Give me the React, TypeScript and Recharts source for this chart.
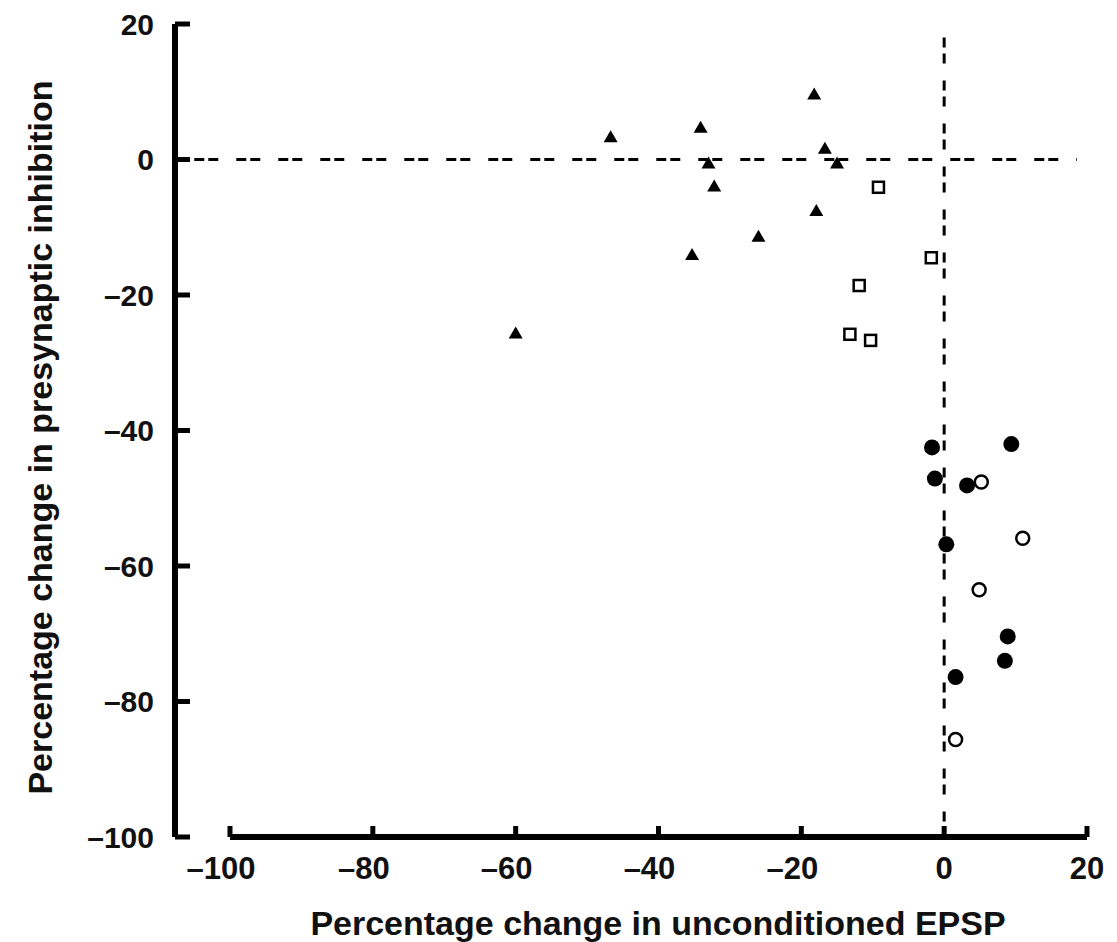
import { ScatterChart, Scatter, XAxis, YAxis, ReferenceLine, Label } from "recharts";

// filled triangles
const triangleX = [-60.0, -46.7, -34.1, -33.0, -32.2, -35.3, -26.0, -18.2, -16.7, -15.0, -17.9];
const triangleY = [-25.7, 3.3, 4.7, -0.6, -4.0, -14.1, -11.4, 9.6, 1.6, -0.6, -7.6];

// open squares
const squareX = [-9.2, -1.8, -11.9, -13.2, -10.3];
const squareY = [-4.1, -14.5, -18.6, -25.8, -26.7];

// filled circles
const dotX = [-1.7, 9.4, -1.3, 3.2, 0.3, 8.9, 8.5, 1.6];
const dotY = [-42.5, -42.0, -47.1, -48.1, -56.8, -70.4, -74.0, -76.4];

// open circles
const ringX = [5.2, 11.0, 4.9, 1.6];
const ringY = [-47.6, -55.9, -63.5, -85.6];

const xTicks = [-100, -80, -60, -40, -20, 0, 20];
const yTicks = [20, 0, -20, -40, -60, -80, -100];

const X_MIN = -107.7; // y axis sits a little left of -100

const toPoints = (xs: number[], ys: number[]) => xs.map((x, i) => ({ x, y: ys[i] }));

const FONT = "'Liberation Sans', Arial, Helvetica, sans-serif";
const fmt = (v: number) => (v < 0 ? "\u2013" + Math.abs(v) : String(v));

const Triangle = (p: any) => (
  <path d={`M${p.cx},${p.cy - 7} L${p.cx + 7},${p.cy + 5} L${p.cx - 7},${p.cy + 5} Z`} fill="#000" />
);
const Square = (p: any) => (
  <rect x={p.cx - 5.5} y={p.cy - 5.5} width={11} height={11} fill="#fff" stroke="#000" strokeWidth={2.5} />
);
const Dot = (p: any) => <circle cx={p.cx} cy={p.cy} r={8} fill="#000" />;
const Ring = (p: any) => <circle cx={p.cx} cy={p.cy} r={6.5} fill="#fff" stroke="#000" strokeWidth={2.5} />;

const YTick = ({ x, y, payload }: any) => (
  <g>
    <line x1={x} y1={y} x2={x + 15} y2={y} stroke="#000" strokeWidth={5} />
    <text x={x - 21} y={y} dy="0.36em" textAnchor="end" fontFamily={FONT} fontWeight="bold" fontSize={30} fill="#111">
      {fmt(payload.value)}
    </text>
  </g>
);

const XTick = ({ x, y, payload }: any) => (
  <g>
    <line x1={x} y1={y} x2={x} y2={y - 11} stroke="#000" strokeWidth={5} />
    <text x={payload.value < 0 ? x - 9 : x} y={y + 42} textAnchor="middle" fontFamily={FONT} fontWeight="bold" fontSize={31} fill="#111">
      {fmt(payload.value)}
    </text>
  </g>
);

const XTitle = (props: any) => {
  const { x, y, width } = props.viewBox;
  return (
    <text x={x + width / 2 + 27} y={y + 98} textAnchor="middle" fontFamily={FONT} fontWeight="bold" fontSize={34} fill="#111">
      Percentage change in unconditioned EPSP
    </text>
  );
};

const YTitle = (props: any) => {
  const { x, y, height } = props.viewBox;
  const cx = x - 134;
  const cy = y + height / 2 + 7;
  return (
    <text x={cx} y={cy} transform={`rotate(-90 ${cx} ${cy})`} dy="0.36em" textAnchor="middle" fontFamily={FONT} fontWeight="bold" fontSize={34} fill="#111">
      Percentage change in presynaptic inhibition
    </text>
  );
};

const App = () => {
  return (
    <ScatterChart width={1109} height={934} margin={{ top: 16, right: 30, bottom: 0, left: 166 }}>
      <XAxis
        type="number"
        dataKey="x"
        domain={[X_MIN, 20]}
        ticks={xTicks}
        interval={0}
        axisLine={false}
        tickLine={false}
        tickSize={0}
        tickMargin={0}
        tick={<XTick />}
        height={105}
      >
        <Label content={<XTitle />} />
      </XAxis>
      <YAxis
        type="number"
        dataKey="y"
        domain={[-100, 20]}
        ticks={yTicks}
        interval={0}
        width={1}
        axisLine={{ stroke: "#000", strokeWidth: 6 }}
        tickLine={false}
        tickSize={0}
        tickMargin={0}
        tick={<YTick />}
      >
        <Label content={<YTitle />} />
      </YAxis>
      <ReferenceLine
        segment={[{ x: -100, y: -100 }, { x: 20, y: -100 }]}
        stroke="#000"
        strokeWidth={6}
      />
      <ReferenceLine
        segment={[{ x: -105, y: 0 }, { x: 18.6, y: 0 }]}
        stroke="#000"
        strokeWidth={3}
        strokeDasharray="10 4 10 18"
      />
      <ReferenceLine
        segment={[{ x: 0, y: 18 }, { x: 0, y: -100 }]}
        stroke="#000"
        strokeWidth={3}
        strokeDasharray="10 6 10 17"
      />
      <Scatter data={toPoints(triangleX, triangleY)} shape={Triangle} isAnimationActive={false} />
      <Scatter data={toPoints(squareX, squareY)} shape={Square} isAnimationActive={false} />
      <Scatter data={toPoints(dotX, dotY)} shape={Dot} isAnimationActive={false} />
      <Scatter data={toPoints(ringX, ringY)} shape={Ring} isAnimationActive={false} />
    </ScatterChart>
  );
};

export default App;
